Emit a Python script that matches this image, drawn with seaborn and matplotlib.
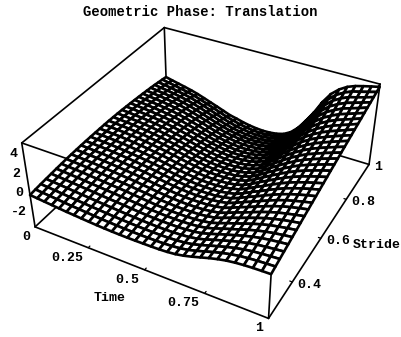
import numpy as np
import matplotlib
matplotlib.use('Agg')
import matplotlib.pyplot as plt
import seaborn as sns
from mpl_toolkits.mplot3d import proj3d

time_values = [i / 30 for i in range(31)]
stride_values = [0.25 + 0.75 * i / 30 for i in range(31)]

# Surface heights, one list per time step (stride grows along each list)
z_by_time = [
    [-.2,-.13,-.07,-.02,.03,.08,.12,.16,.19,.21,.23,.24,.25,.25,.25,.25,.24,.22,.2,.17,.13,.09,.04,-.01,-.06,-.12,-.18,-.25,-.33,-.41,-.5],
    [-.27,-.2,-.13,-.07,-.02,.03,.07,.11,.14,.17,.19,.2,.2,.2,.2,.2,.19,.17,.14,.11,.07,.02,-.03,-.09,-.15,-.21,-.28,-.36,-.45,-.56,-.68],
    [-.34,-.26,-.19,-.13,-.07,-.02,.03,.07,.1,.12,.14,.15,.15,.16,.15,.15,.13,.11,.08,.04,0,-.05,-.11,-.17,-.23,-.3,-.38,-.47,-.58,-.7,-.85],
    [-.41,-.33,-.26,-.19,-.13,-.07,-.02,.02,.05,.08,.1,.11,.11,.11,.11,.1,.08,.06,.02,-.02,-.07,-.13,-.19,-.25,-.32,-.4,-.49,-.6,-.72,-.86,-1.02],
    [-.48,-.4,-.33,-.26,-.2,-.14,-.09,-.05,-.01,.01,.03,.04,.04,.04,.03,.02,0,-.03,-.07,-.11,-.16,-.22,-.29,-.36,-.44,-.52,-.62,-.74,-.87,-1.02,-1.2],
    [-.55,-.47,-.39,-.32,-.26,-.2,-.15,-.11,-.08,-.05,-.04,-.03,-.03,-.04,-.05,-.06,-.08,-.12,-.16,-.21,-.26,-.33,-.4,-.48,-.56,-.65,-.77,-.9,-1.05,-1.22,-1.42],
    [-.6,-.52,-.45,-.38,-.32,-.26,-.21,-.17,-.14,-.12,-.11,-.11,-.12,-.13,-.14,-.15,-.19,-.23,-.28,-.33,-.39,-.46,-.54,-.63,-.72,-.83,-.96,-1.11,-1.27,-1.46,-1.68],
    [-.66,-.58,-.51,-.44,-.38,-.32,-.28,-.24,-.22,-.2,-.19,-.2,-.21,-.23,-.24,-.26,-.3,-.35,-.41,-.47,-.54,-.62,-.71,-.81,-.92,-1.05,-1.19,-1.35,-1.53,-1.73,-1.95],
    [-.71,-.63,-.56,-.5,-.44,-.38,-.34,-.31,-.29,-.28,-.27,-.29,-.31,-.33,-.36,-.38,-.44,-.5,-.56,-.63,-.71,-.8,-.91,-1.02,-1.14,-1.28,-1.44,-1.61,-1.8,-2.0,-2.22],
    [-.76,-.69,-.62,-.55,-.49,-.44,-.4,-.38,-.36,-.35,-.35,-.37,-.4,-.43,-.46,-.5,-.56,-.63,-.71,-.79,-.88,-.99,-1.11,-1.23,-1.36,-1.51,-1.69,-1.87,-2.07,-2.28,-2.5],
    [-.8,-.73,-.67,-.61,-.55,-.51,-.48,-.47,-.46,-.46,-.46,-.49,-.53,-.57,-.61,-.65,-.72,-.8,-.89,-.98,-1.08,-1.2,-1.33,-1.47,-1.61,-1.77,-1.95,-2.15,-2.35,-2.56,-2.78],
    [-.83,-.77,-.71,-.66,-.62,-.58,-.56,-.55,-.55,-.56,-.57,-.61,-.65,-.7,-.75,-.8,-.88,-.97,-1.07,-1.17,-1.27,-1.4,-1.54,-1.69,-1.84,-1.99,-2.18,-2.38,-2.57,-2.76,-2.95],
    [-.85,-.8,-.75,-.71,-.68,-.65,-.64,-.64,-.65,-.66,-.68,-.73,-.78,-.84,-.89,-.95,-1.04,-1.14,-1.24,-1.34,-1.45,-1.59,-1.73,-1.88,-2.03,-2.19,-2.38,-2.58,-2.77,-2.96,-3.15],
    [-.86,-.82,-.78,-.75,-.73,-.71,-.71,-.72,-.73,-.75,-.78,-.83,-.89,-.95,-1.01,-1.07,-1.17,-1.27,-1.37,-1.48,-1.59,-1.73,-1.87,-2.02,-2.17,-2.33,-2.52,-2.72,-2.91,-3.11,-3.3],
    [-.86,-.83,-.8,-.78,-.77,-.76,-.77,-.78,-.8,-.83,-.86,-.92,-.99,-1.05,-1.12,-1.18,-1.28,-1.38,-1.49,-1.6,-1.71,-1.85,-1.99,-2.14,-2.29,-2.45,-2.64,-2.83,-3.02,-3.21,-3.4],
    [-.85,-.83,-.81,-.8,-.79,-.79,-.81,-.83,-.85,-.88,-.92,-.98,-1.05,-1.12,-1.18,-1.25,-1.35,-1.45,-1.56,-1.67,-1.78,-1.92,-2.06,-2.21,-2.36,-2.52,-2.7,-2.89,-3.07,-3.26,-3.45],
    [-.84,-.82,-.81,-.8,-.79,-.79,-.81,-.84,-.87,-.9,-.94,-1.0,-1.07,-1.14,-1.2,-1.27,-1.37,-1.47,-1.58,-1.69,-1.8,-1.93,-2.07,-2.21,-2.36,-2.51,-2.69,-2.87,-3.05,-3.24,-3.42],
    [-.82,-.8,-.79,-.78,-.78,-.78,-.8,-.82,-.85,-.88,-.92,-.98,-1.05,-1.12,-1.18,-1.25,-1.35,-1.45,-1.55,-1.65,-1.76,-1.89,-2.02,-2.16,-2.3,-2.45,-2.62,-2.79,-2.96,-3.14,-3.32],
    [-.77,-.75,-.74,-.74,-.74,-.74,-.76,-.79,-.82,-.85,-.88,-.94,-1.0,-1.06,-1.12,-1.18,-1.27,-1.36,-1.45,-1.55,-1.65,-1.77,-1.89,-2.02,-2.16,-2.3,-2.46,-2.62,-2.78,-2.94,-3.1],
    [-.68,-.67,-.66,-.66,-.66,-.66,-.68,-.7,-.72,-.74,-.77,-.82,-.87,-.92,-.98,-1.03,-1.1,-1.18,-1.26,-1.34,-1.43,-1.53,-1.63,-1.74,-1.85,-1.97,-2.11,-2.24,-2.38,-2.51,-2.65],
    [-.52,-.52,-.52,-.52,-.52,-.52,-.54,-.56,-.58,-.6,-.62,-.65,-.69,-.72,-.76,-.8,-.85,-.91,-.96,-1.02,-1.08,-1.15,-1.22,-1.29,-1.36,-1.44,-1.53,-1.62,-1.71,-1.8,-1.9],
    [-.3,-.3,-.29,-.29,-.28,-.28,-.29,-.29,-.3,-.3,-.31,-.32,-.34,-.35,-.37,-.38,-.4,-.42,-.44,-.46,-.49,-.52,-.55,-.58,-.61,-.65,-.69,-.73,-.77,-.81,-.85],
    [-.05,-.04,-.03,-.02,-.01,0,.01,.02,.03,.04,.05,.06,.07,.08,.09,.1,.11,.12,.13,.15,.16,.17,.19,.2,.22,.23,.24,.26,.27,.29,.3],
    [.2,.21,.22,.23,.25,.26,.28,.3,.32,.34,.37,.4,.43,.47,.51,.55,.59,.64,.69,.74,.79,.85,.91,.97,1.03,1.1,1.18,1.27,1.37,1.5,1.65],
    [.42,.44,.46,.48,.5,.52,.56,.6,.64,.68,.72,.77,.83,.88,.94,1.0,1.07,1.14,1.22,1.3,1.38,1.47,1.56,1.65,1.76,1.88,2.02,2.17,2.33,2.52,2.72],
    [.6,.63,.67,.71,.75,.79,.84,.89,.95,1.0,1.06,1.13,1.2,1.27,1.35,1.42,1.51,1.6,1.69,1.78,1.87,1.98,2.09,2.21,2.34,2.5,2.67,2.85,3.04,3.23,3.42],
    [.72,.78,.84,.9,.96,1.02,1.09,1.16,1.23,1.3,1.38,1.46,1.55,1.63,1.71,1.8,1.9,2.0,2.1,2.19,2.29,2.4,2.52,2.65,2.79,2.95,3.12,3.3,3.5,3.7,3.9],
    [.8,.88,.97,1.05,1.13,1.21,1.3,1.38,1.47,1.56,1.65,1.74,1.83,1.93,2.02,2.12,2.22,2.32,2.42,2.53,2.63,2.75,2.88,3.02,3.17,3.33,3.5,3.67,3.85,4.03,4.2],
    [.85,.95,1.05,1.15,1.26,1.36,1.46,1.56,1.66,1.77,1.87,1.98,2.08,2.19,2.29,2.4,2.51,2.62,2.73,2.83,2.94,3.06,3.18,3.31,3.45,3.6,3.75,3.9,4.05,4.22,4.4],
    [.88,1.0,1.12,1.24,1.36,1.48,1.6,1.72,1.83,1.95,2.07,2.19,2.31,2.42,2.54,2.66,2.78,2.89,3.01,3.12,3.24,3.36,3.48,3.6,3.73,3.87,4.0,4.14,4.27,4.42,4.58],
    [.9,1.04,1.18,1.32,1.45,1.59,1.72,1.85,1.99,2.12,2.25,2.38,2.51,2.64,2.77,2.9,3.03,3.15,3.28,3.4,3.53,3.65,3.78,3.9,4.02,4.15,4.27,4.39,4.51,4.63,4.75],
]

time_ticks = [0, 0.25, 0.5, 0.75, 1]
time_labels = ['0', '0.25', '0.5', '0.75', '1']
stride_ticks = [0.4, 0.6, 0.8, 1]
stride_labels = ['0.4', '0.6', '0.8', '1']
z_ticks = [-2, 0, 2, 4]
z_labels = ['-2', '0', '2', '4']

t0, t1 = 0, 1
s0, s1 = 0.25, 1
z0, z1 = -3.65, 5.03

sns.set_theme(style='white')
plt.rcParams['font.family'] = ['Liberation Mono', 'DejaVu Sans']

fig = plt.figure(figsize=(4.01, 3.37), dpi=100)
ax = fig.add_axes([3.9 / 401, -23.5 / 337, 1, 401 / 337], projection='3d', computed_zorder=False)
ax.set_xlim(t0, t1)
ax.set_ylim(s0, s1)
ax.set_zlim(z0, z1)
ax.set_box_aspect((1, 1, 0.4), zoom=0.9053)
ax.set_proj_type('persp', focal_length=0.3968)
ax.view_init(elev=36.28, azim=-61.56)
ax.set_axis_off()

# box edges go under the surface, it hides what it covers
edges = [
    ([t0, t1], [s0, s0], [z0, z0]), ([t1, t1], [s0, s1], [z0, z0]),
    ([t0, t1], [s1, s1], [z0, z0]), ([t0, t0], [s0, s1], [z0, z0]),
    ([t0, t1], [s0, s0], [z1, z1]), ([t1, t1], [s0, s1], [z1, z1]),
    ([t0, t1], [s1, s1], [z1, z1]), ([t0, t0], [s0, s1], [z1, z1]),
    ([t0, t0], [s0, s0], [z0, z1]), ([t1, t1], [s0, s0], [z0, z1]),
    ([t1, t1], [s1, s1], [z0, z1]), ([t0, t0], [s1, s1], [z0, z1]),
]
for ex, ey, ez in edges:
    ax.plot(ex, ey, ez, color='black', lw=1.2, zorder=1)

X, Y = np.meshgrid(time_values, stride_values)
Z = np.array(z_by_time).T
ax.plot_surface(X, Y, Z, rstride=1, cstride=1, color='white', shade=False,
                edgecolor='black', linewidth=1.9, zorder=2)

# small tick marks
for t in time_ticks[1:-1]:
    ax.plot([t, t], [s0, s0 + 0.008], [z0, z0], color='black', lw=0.9, zorder=1)
for s in stride_ticks[:-1]:
    ax.plot([t1, t1 - 0.01], [s, s], [z0, z0], color='black', lw=0.9, zorder=1)


def label(x, y, z, text, dx, dy, ha):
    px, py, _ = proj3d.proj_transform(x, y, z, ax.get_proj())
    ax.annotate(text, xy=(px, py), xytext=(dx, dy), textcoords='offset pixels', ha=ha, va='center',
                fontsize=9.5, fontweight='bold', color='black', annotation_clip=False, zorder=5)


for t, txt in zip(time_ticks, time_labels):
    label(t, s0, z0, txt, -5, -10, 'right')
for s, txt in zip(stride_ticks, stride_labels):
    label(t1, s, z0, txt, 5, -3, 'left')
for z, txt in zip(z_ticks, z_labels):
    label(t0, s0, z, txt, -6, 0, 'right')

fig.text(200 / 401, 1 - 12 / 337, 'Geometric Phase: Translation', ha='center', va='center',
         fontsize=10, fontweight='bold', color='black')
fig.text(110 / 401, 1 - 298 / 337, 'Time', ha='center', va='center', fontsize=9.5, fontweight='bold', color='black')
fig.text(377 / 401, 1 - 245 / 337, 'Stride', ha='center', va='center', fontsize=9.5, fontweight='bold', color='black')

fig.savefig('out.png', dpi=100)
